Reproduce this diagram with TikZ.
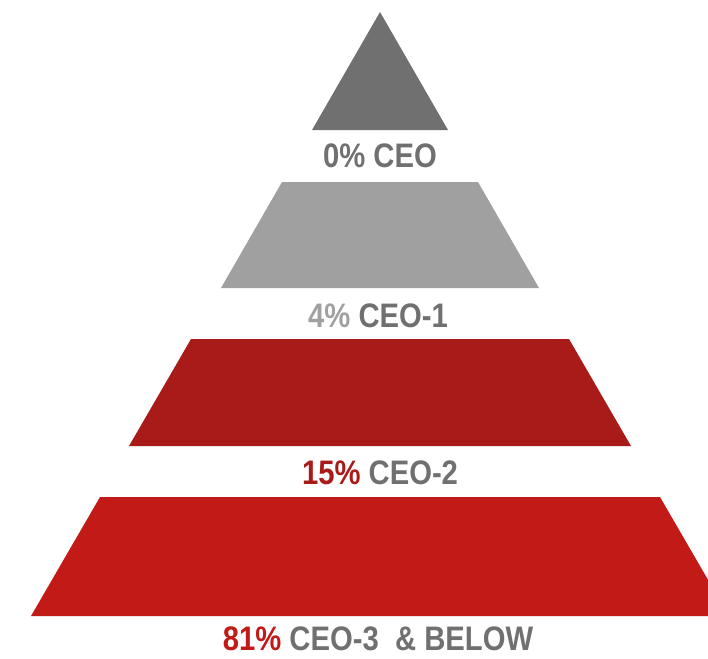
\documentclass[tikz,border=0pt]{standalone}
\usepackage{fontspec}
\setmainfont{Liberation Sans}[FakeStretch=0.86]
\definecolor{topgray}{HTML}{707070}
\definecolor{midgray}{HTML}{A0A0A0}
\definecolor{darkred}{HTML}{A91B18}
\definecolor{basered}{HTML}{C11A17}
\definecolor{labelgray}{HTML}{707070}
\tikzset{
	level label/.style={anchor=base, inner sep=0, text=labelgray,
		font=\fontsize{34}{36}\selectfont\bfseries},
}
\begin{document}
\begin{tikzpicture}[x=1pt, y=-1pt]
	\clip (0, 0) rectangle (708, 658);

	\fill[topgray] (380, 12) -- (448, 130) -- (312, 130) -- cycle;
	\fill[midgray] (282, 182) -- (478, 182) -- (539, 288) -- (221, 288) -- cycle;
	\fill[darkred] (191, 339) -- (569, 339) -- (631, 446) -- (129, 446) -- cycle;
	\fill[basered] (100, 497) -- (660, 497) -- (729, 616) -- (31, 616) -- cycle;

	\node[level label] (ceo) at (380, 167) {0\% CEO};
	\node[level label] (ceo1) at (378, 327) {\textcolor{midgray}{4\%} CEO-1};
	\node[level label] (ceo2) at (380, 484) {\textcolor{darkred}{15\%} CEO-2};
	\node[level label] (ceo3) at (378, 650) {\textcolor{basered}{81\%} CEO-3\ \ \& BELOW};
\end{tikzpicture}
\end{document}
